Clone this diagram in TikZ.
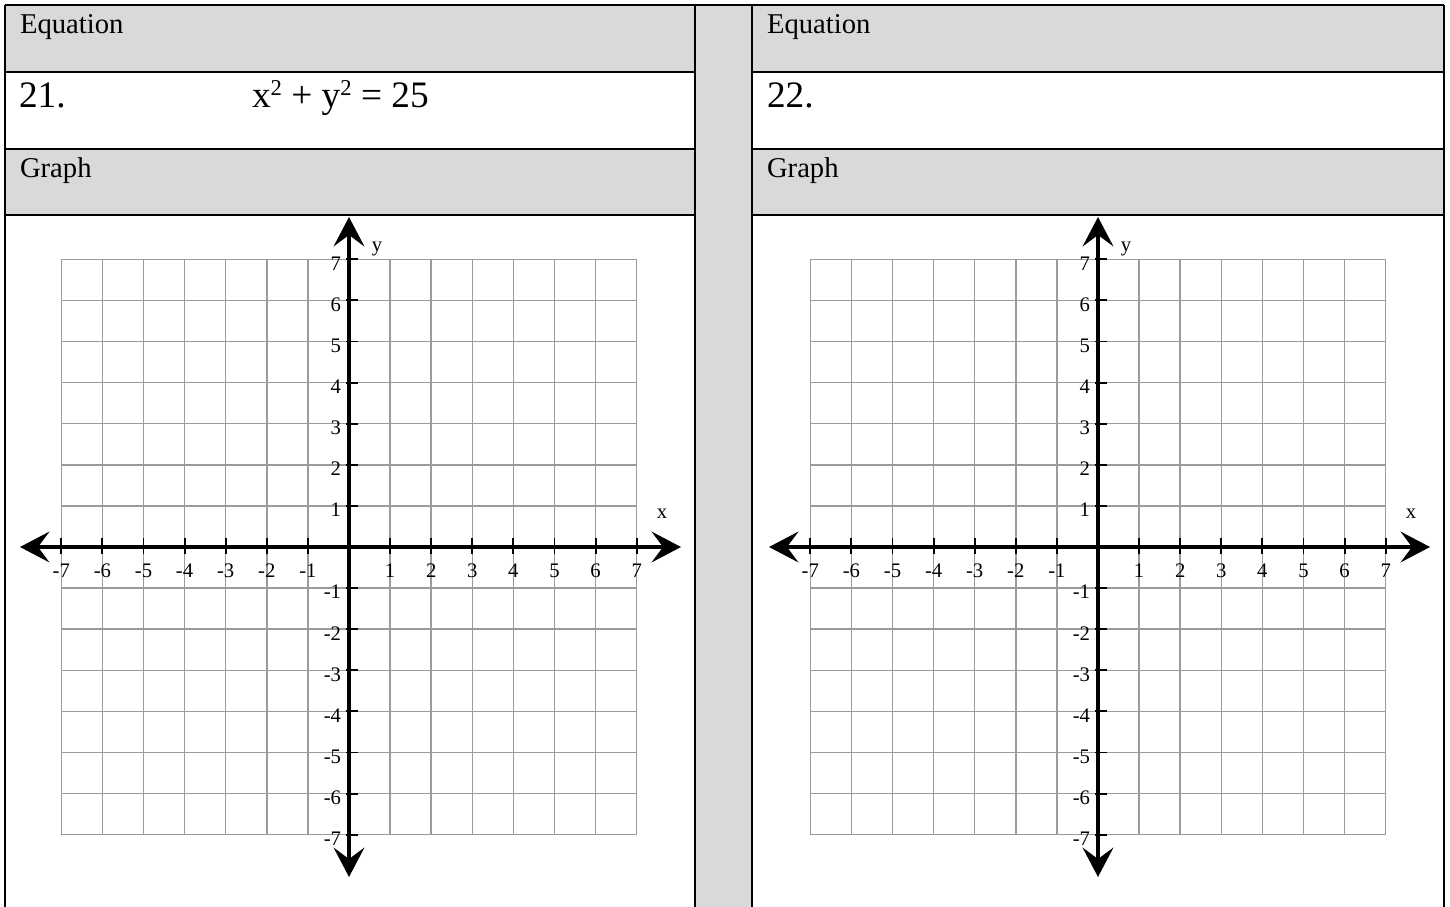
\documentclass[tikz,border=0pt]{standalone}
\usepackage{fontspec}
\setmainfont{Liberation Serif}
\usetikzlibrary{arrows.meta}
\definecolor{hdrgray}{RGB}{217,217,217}
\definecolor{gridgray}{RGB}{155,155,155}
\newcommand\supnum[1]{\raisebox{8.3pt}{\fontsize{17}{19}\selectfont #1}}
\tikzset{
  every node/.style={inner sep=0pt, outer sep=0pt},
  border/.style={line width=2pt, black},
  gridline/.style={line width=1.1pt, gridgray},
  axistip/.tip={Stealth[length=22pt,width=23pt,inset=8.5pt]},
  axisline/.style={line width=2.7pt, black, axistip-axistip},
  tickline/.style={line width=1.4pt, black},
  hdr/.style={font=\fontsize{21.5}{25}\selectfont, anchor=base west},
  big/.style={font=\fontsize{28}{32}\selectfont, anchor=base west},
  ticklbl/.style={font=\fontsize{15.5}{17}\selectfont},
  axlbl/.style={font=\fontsize{15.5}{17}\selectfont, anchor=base},
}
\begin{document}
\begin{tikzpicture}[x=0.75pt,y=-0.75pt]
\useasboundingbox (0,0) rectangle (1450,907);
\fill[white] (0,0) rectangle (1450,907);
% gray fills
\fill[hdrgray] (5,5) rectangle (695,72);
\fill[hdrgray] (5,149) rectangle (695,215);
\fill[hdrgray] (752,5) rectangle (1444,72);
\fill[hdrgray] (752,149) rectangle (1444,215);
\fill[hdrgray] (695,5) rectangle (752,907);
% borders
\draw[border] (5,5) -- (1444,5);
\foreach \yy in {72,149,215} {
  \draw[border] (5,\yy) -- (695,\yy);
  \draw[border] (752,\yy) -- (1444,\yy);
}
\foreach \xx in {5,695,752,1444} {
  \draw[border] (\xx,5) -- (\xx,907);
}
% texts
\node[hdr] (eqL) at (20,33) {Equation};
\node[big] (numL) at (19,107) {21.};
\node[big] (fmL) at (252,107) {x\supnum{2} + y\supnum{2} = 25};
\node[hdr] (grL) at (20,177) {Graph};
\node[hdr] (eqR) at (767,33) {Equation};
\node[big] (numR) at (767,107) {22.};
\node[hdr] (grR) at (767,177) {Graph};
% graphs
\foreach \ox/\s in {349/L,1098/R} {
  \begin{scope}[shift={(\ox,547)}]
    \foreach \i in {-7,...,7} {
      \draw[gridline] ({\i*41.1},-287.7) -- ({\i*41.1},287.7);
      \draw[gridline] (-287.7,{\i*41.1}) -- (287.7,{\i*41.1});
    }
    \coordinate (xa\s) at (-329,0);
    \coordinate (xb\s) at (332,0);
    \coordinate (ya\s) at (0,-330);
    \coordinate (yb\s) at (0,330);
    \draw[axisline] (xa\s) -- (xb\s);
    \draw[axisline] (ya\s) -- (yb\s);
    \foreach \i in {-7,...,-1,1,2,...,7} {
      \draw[tickline] ({\i*41.1},-9) -- ({\i*41.1},7);
      \draw[tickline] (-3,{-\i*41.1}) -- (9,{-\i*41.1});
      \node[ticklbl, anchor=base] (xl\s\i) at ({\i*41.1},30) {\i};
      \node[ticklbl, anchor=east] (yl\s\i) at (-8,{-\i*41.1+4}) {\i};
    }
    \node[axlbl] (xn\s) at (313,-29) {x};
    \node[axlbl] (yn\s) at (28,-296) {y};
  \end{scope}
}
\end{tikzpicture}
\end{document}
